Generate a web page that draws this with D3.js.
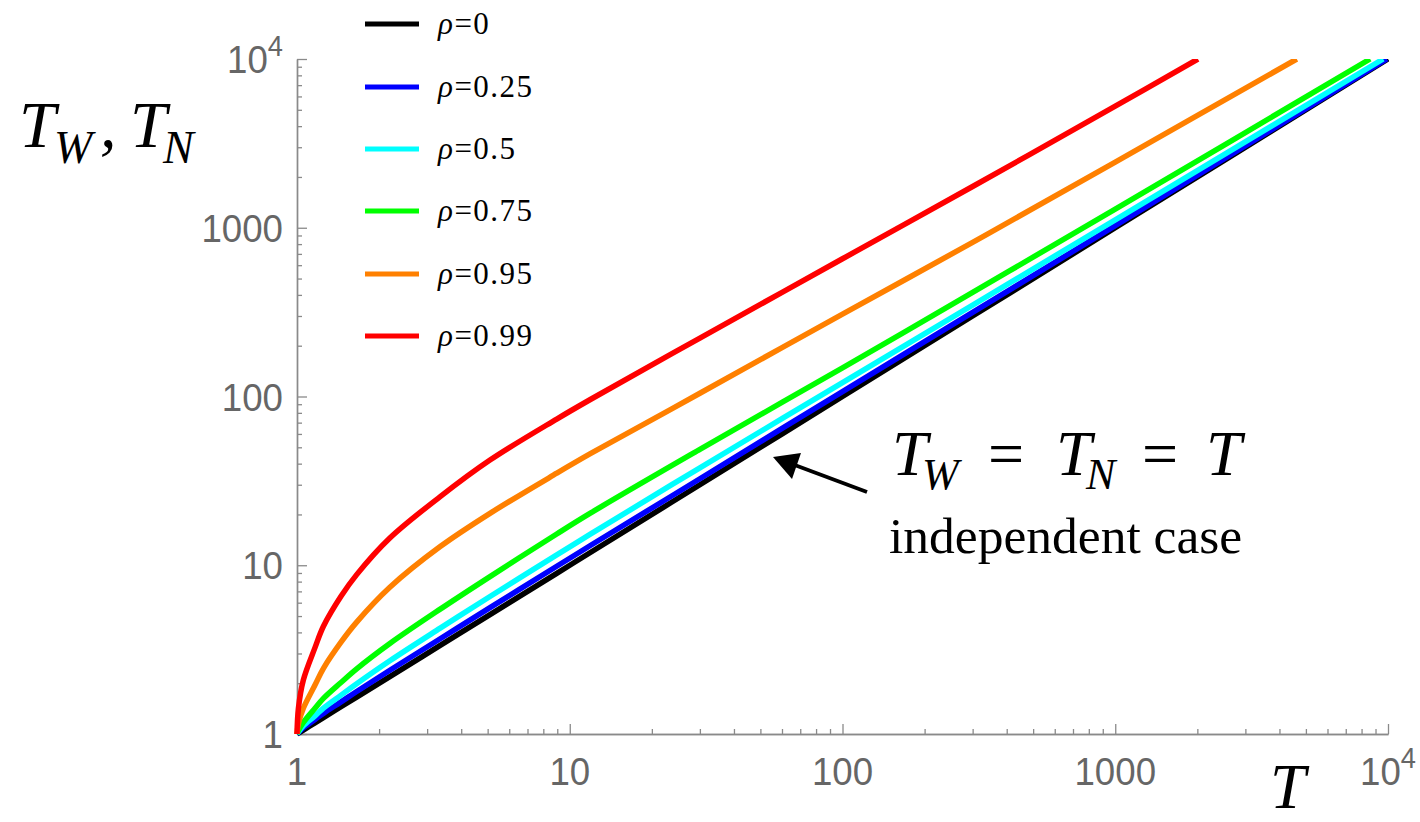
<!DOCTYPE html>
<meta charset="utf-8">
<html>
<head>
	<script src="https://cdn.jsdelivr.net/npm/d3@7"></script>
	<style>
		body { margin: 0; background: #fff; }
		svg { display: block; }
	</style>
</head>
<body>
	<svg id="chart" width="1420" height="822"></svg>
	<script>
	// values (T on x, T_W / T_N on y, log-log)
	var rhoLabels = ["0", "0.25", "0.5", "0.75", "0.95", "0.99"];
	var colors = ["#000000", "#0000ff", "#00ffff", "#00ff00", "#ff8000", "#ff0000"];

	var tGrid   = [1, 1.012, 1.055, 1.164, 1.25, 1.45, 1.655, 2.19, 3.35, 5.1, 8.96, 11.9, 30, 100, 300, 1000];
	var rho0    = [1, 1.012, 1.055, 1.164, 1.25, 1.45, 1.655, 2.19, 3.35, 5.1, 8.96, 11.9, 30, 100, 300, 1000];
	var rho025  = [1, 1.02, 1.087, 1.22, 1.325, 1.55, 1.787, 2.387, 3.668, 5.61, 9.86, 13.09, 32.55, 107, 315, 1030];
	var rho05   = [1, 1.03, 1.118, 1.28, 1.425, 1.70, 1.986, 2.716, 4.238, 6.528, 11.51, 15.29, 37.8, 121, 348, 1115];
	var rho075  = [1, 1.05, 1.171, 1.42, 1.625, 2.02, 2.433, 3.438, 5.494, 8.568, 15.32, 20.35, 48.6, 148, 414, 1290];
	var rho095  = [1, 1.15, 1.42, 1.95, 2.45, 3.5, 4.6, 7.4, 12.9, 20.3, 35.1, 45.8, 104.5, 308, 819, 2450];
	var rho099  = [1, 1.42, 2.09, 3.25, 4.35, 6.55, 8.8, 14.5, 25.5, 42.0, 73.5, 96, 222, 655, 1755, 5250];
	// where each curve leaves the top of the frame (T_W = 10^4)
	var endT = [10000, 9900, 9600, 8600, 4630, 2010];
	var endV = 10000;

	var majorTicks = [1, 10, 100, 1000, 10000];
	var tickText = ["1", "10", "100", "1000", "10^4"];

	var series = [rho0, rho025, rho05, rho075, rho095, rho099];

	var svg = d3.select("#chart");

	var x = d3.scaleLog().domain([1, 1e4]).range([297, 1388]);
	var y = d3.scaleLog().domain([1, 1e4]).range([734, 59]);

	var minorTicks = [];
	for (var d = 1; d < 1e4; d *= 10) {
		for (var k = 2; k <= 9; k++) minorTicks.push(d * k);
	}

	var axisGray = "#8a8a8a";
	var labelGray = "#666666";

	// ---- axes (ticks pointing inwards)
	function styleAxis(g) {
		g.selectAll("path").attr("stroke", axisGray).attr("stroke-width", 1.4);
		g.selectAll("line").attr("stroke", axisGray).attr("stroke-width", 1.3);
		g.selectAll("text").remove();
	}

	svg.append("g")
		.attr("transform", "translate(0,734)")
		.call(d3.axisBottom(x).tickValues(majorTicks).tickSize(-10).tickSizeOuter(0).tickFormat(""))
		.call(styleAxis);
	svg.append("g")
		.attr("transform", "translate(0,734)")
		.call(d3.axisBottom(x).tickValues(minorTicks).tickSize(-5).tickSizeOuter(0).tickFormat(""))
		.call(styleAxis);
	svg.append("g")
		.attr("transform", "translate(297,0)")
		.call(d3.axisLeft(y).tickValues(majorTicks).tickSize(-10).tickSizeOuter(0).tickFormat(""))
		.call(styleAxis);
	svg.append("g")
		.attr("transform", "translate(297,0)")
		.call(d3.axisLeft(y).tickValues(minorTicks).tickSize(-5).tickSizeOuter(0).tickFormat(""))
		.call(styleAxis);

	// ---- tick labels (narrow grey sans)
	function writeTick(sel, i) {
		var t = tickText[i];
		if (t.indexOf("^") > 0) {
			var parts = t.split("^");
			sel.append("tspan").text(parts[0]);
			sel.append("tspan").attr("font-size", 29).attr("dy", -17).text(parts[1]);
		} else {
			sel.text(t);
		}
	}

	var tickFont = "Liberation Sans, Arial, sans-serif";

	majorTicks.forEach(function(v, i) {
		var t = svg.append("text")
			.attr("transform", "translate(" + x(v) + ",785) scale(0.94,1)")
			.attr("text-anchor", "middle")
			.attr("font-family", tickFont)
			.attr("font-size", 39)
			.attr("fill", labelGray);
		writeTick(t, i);
	});

	majorTicks.forEach(function(v, i) {
		var t = svg.append("text")
			.attr("transform", "translate(283," + (y(v) + 14) + ") scale(0.94,1)")
			.attr("text-anchor", "end")
			.attr("font-family", tickFont)
			.attr("font-size", 39)
			.attr("fill", labelGray);
		writeTick(t, i);
	});

	// ---- curves
	svg.append("defs").append("clipPath").attr("id", "plotClip")
		.append("rect").attr("x", 0).attr("y", 59).attr("width", 1389).attr("height", 763);

	var line = d3.line()
		.x(function(p) { return x(p[0]); })
		.y(function(p) { return y(p[1]); })
		.curve(d3.curveCatmullRom.alpha(0.5));

	var curveData = series.map(function(vals, i) {
		var pts = tGrid.map(function(t, j) { return [t, vals[j]]; })
			.filter(function(p) { return p[0] < endT[i] && p[1] < endV; });
		pts.push([endT[i], endV]);
		return pts;
	});

	svg.append("g").attr("clip-path", "url(#plotClip)")
		.selectAll("path")
		.data(curveData)
		.enter()
		.append("path")
			.attr("d", line)
			.attr("fill", "none")
			.attr("stroke", function(d, i) { return colors[i]; })
			.attr("stroke-width", 5.5);

	// ---- legend
	var serif = "Liberation Serif, Times New Roman, serif";
	var legend = svg.append("g");
	var legendY = [24, 87, 149, 211, 274, 336];
	rhoLabels.forEach(function(r, i) {
		legend.append("line")
			.attr("x1", 365).attr("x2", 419)
			.attr("y1", legendY[i]).attr("y2", legendY[i])
			.attr("stroke", colors[i]).attr("stroke-width", 5);
		var t = legend.append("text")
			.attr("x", 438).attr("y", legendY[i] + 10)
			.attr("font-family", serif)
			.attr("font-size", 31)
			.attr("letter-spacing", 1.5)
			.attr("fill", "#000");
		t.append("tspan").attr("font-style", "italic").text("\u03C1");
		t.append("tspan").text("=" + r);
	});

	// ---- axis titles
	var yTitle = svg.append("text")
		.attr("font-family", serif)
		.attr("font-style", "italic")
		.attr("font-size", 66)
		.attr("fill", "#000");
	yTitle.append("tspan").attr("x", 19).attr("y", 147).text("T");
	yTitle.append("tspan").attr("x", 54).attr("y", 163).attr("font-size", 46).text("W");
	yTitle.append("tspan").attr("x", 100).attr("y", 147).text(",");
	yTitle.append("tspan").attr("x", 130).attr("y", 147).text("T");
	yTitle.append("tspan").attr("x", 163).attr("y", 163).attr("font-size", 46).text("N");

	svg.append("text")
		.attr("x", 1270).attr("y", 808)
		.attr("font-family", serif)
		.attr("font-style", "italic")
		.attr("font-size", 64)
		.attr("fill", "#000")
		.text("T");

	// ---- annotation
	var note = svg.append("text")
		.attr("font-family", serif)
		.attr("font-size", 64)
		.attr("fill", "#000");
	note.append("tspan").attr("x", 892).attr("y", 475).attr("font-style", "italic").text("T");
	note.append("tspan").attr("x", 922).attr("y", 489).attr("font-size", 44).attr("font-style", "italic").text("W");
	note.append("tspan").attr("x", 988).attr("y", 475).text("=");
	note.append("tspan").attr("x", 1056).attr("y", 475).attr("font-style", "italic").text("T");
	note.append("tspan").attr("x", 1086).attr("y", 489).attr("font-size", 44).attr("font-style", "italic").text("N");
	note.append("tspan").attr("x", 1142).attr("y", 475).text("=");
	note.append("tspan").attr("x", 1206).attr("y", 475).attr("font-style", "italic").text("T");

	svg.append("text")
		.attr("x", 889).attr("y", 553)
		.attr("font-family", serif)
		.attr("font-size", 51.5)
		.attr("fill", "#000")
		.text("independent case");

	// arrow pointing at the rho=0 line
	svg.append("line")
		.attr("x1", 867).attr("y1", 492)
		.attr("x2", 792).attr("y2", 464)
		.attr("stroke", "#000").attr("stroke-width", 4);
	svg.append("path")
		.attr("d", "M773,457 L801,453 L792,479 Z")
		.attr("fill", "#000");
	</script>
</body>
</html>
